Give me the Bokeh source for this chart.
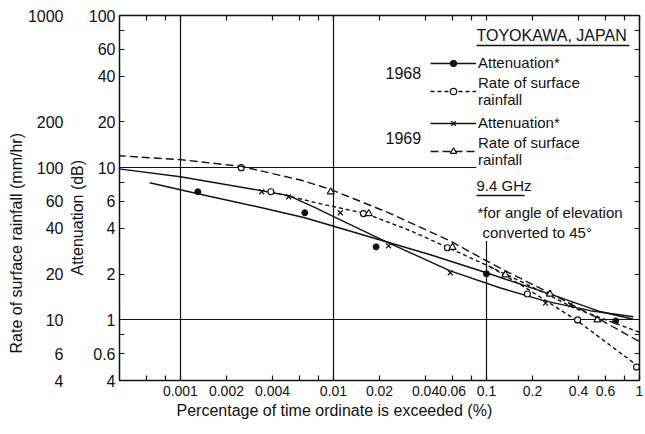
import math
from bokeh.plotting import figure
from bokeh.models import (LogAxis, LogScale, Range1d, FixedTicker, Label, Legend,
                          LegendItem, BoxAnnotation, Title)
from bokeh.embed import file_html
from bokeh.resources import INLINE

# ---------------- data ----------------
# 1968 attenuation (dB): fitted curve and measured points
att68_x = [0.00063, 0.0013, 0.0034, 0.0065, 0.019, 0.043, 0.1, 0.27, 0.56, 0.91]
att68_y = [7.96, 6.74, 5.46, 4.69, 3.41, 2.68, 2.04, 1.46, 1.13, 1.01]
att68_px = [0.0013, 0.0065, 0.019, 0.1, 0.7]
att68_py = [6.95, 5.06, 3.02, 2.01, 0.985]

# 1969 attenuation (dB)
att69_x = [0.00039, 0.001, 0.0034, 0.0051, 0.0076, 0.0111, 0.0229, 0.058, 0.1235, 0.243, 0.479, 0.914]
att69_y = [9.85, 8.73, 7.06, 6.55, 5.46, 4.55, 3.21, 2.10, 1.62, 1.33, 1.15, 1.05]
att69_px = [0.0034, 0.0051, 0.0111, 0.0229, 0.058, 0.243, 0.354]
att69_py = [6.95, 6.44, 5.06, 3.07, 2.04, 1.29, 1.26]

# 1968 rate of surface rainfall (mm/hr)
rain68_x = [0.0039, 0.0082, 0.0162, 0.0318, 0.0556, 0.106, 0.262, 0.371, 1.0]
rain68_y = [69.5, 58, 50, 38.6, 30, 22.3, 14.4, 12.0, 8.3]
rain68b_x = [0.106, 0.185, 0.394, 0.97]
rain68b_y = [22.3, 16, 9.85, 5.0]
rain68_px = [0.0025, 0.0039, 0.0157, 0.0556, 0.185, 0.394, 0.956]
rain68_py = [100, 69.5, 50, 29.8, 14.8, 10, 4.9]

# 1969 rate of surface rainfall (mm/hr)
rain69_x = [0.00039, 0.001, 0.0025, 0.0061, 0.0096, 0.0236, 0.058, 0.096, 0.133, 0.26, 0.53, 1.0]
rain69_y = [120, 113, 102, 83, 72, 50, 33, 25, 21, 15, 10.3, 7.2]
rain69_px = [0.0096, 0.017, 0.060, 0.133, 0.26, 0.53]
rain69_py = [69.5, 50, 30, 19.8, 14.8, 10.0]

# axes
x_ticks = [0.0006, 0.0008, 0.001, 0.002, 0.004, 0.006, 0.008, 0.01, 0.02, 0.04,
           0.06, 0.08, 0.1, 0.2, 0.4, 0.6, 0.8, 1]
x_labels = ["", "", "0.001", "0.002", "0.004", "", "", "0.01", "0.02", "0.04",
            "0.06", "", "0.1", "0.2", "0.4", "0.6", "", "1"]
att_ticks = [0.4, 0.6, 0.8, 1, 2, 4, 6, 8, 10, 20, 40, 60, 80, 100]
att_labels = ["4", "0.6", "", "1", "2", "4", "6", "", "10", "20", "40", "60", "", "100"]
rain_ticks = [4, 6, 10, 20, 40, 60, 100, 200, 1000]
rain_labels = ["4", "6", "10", "20", "40", "60", "100", "200", "1000"]

FONT = "Liberation Sans"
BLACK = "#111111"

# ---------------- figure ----------------
W, H = 645, 434
p = figure(width=W, height=H, x_axis_type="log", y_axis_type="log",
           x_range=Range1d(0.0004, 1), y_range=Range1d(0.4, 100),
           output_backend="svg", toolbar_location=None,
           min_border_left=119, min_border_right=6, min_border_top=15, min_border_bottom=54)
p.extra_y_ranges = {"rain": Range1d(4, 1000)}
p.extra_y_scales = {"rain": LogScale()}
p.outline_line_color = BLACK
p.background_fill_color = "white"
p.border_fill_color = "white"

# grid
p.xgrid.ticker = FixedTicker(ticks=[0.001, 0.01, 0.1])
p.ygrid.ticker = FixedTicker(ticks=[1, 10])
for g in (p.xgrid, p.ygrid):
    g.grid_line_color = BLACK
    g.grid_line_width = 1.2
    g.grid_line_alpha = 1

def style_axis(ax, ticks, labels, size):
    ax.ticker = FixedTicker(ticks=ticks)
    ax.major_label_overrides = {t: l for t, l in zip(ticks, labels)}
    ax.major_tick_in = 5
    ax.major_tick_out = 0
    ax.minor_tick_line_color = None
    ax.axis_line_color = BLACK
    ax.axis_line_width = 1.5
    ax.major_tick_line_color = BLACK
    ax.major_tick_line_width = 1.2
    ax.major_label_text_font = FONT
    ax.major_label_text_font_size = size
    ax.major_label_text_color = BLACK

def side_title(text, side, offset, standoff=0):
    # align="left": offset is measured from the frame's start edge
    t = Title(text=text, align="left", offset=offset, standoff=standoff,
              text_font=FONT, text_font_size="16px", text_font_style="normal",
              text_color=BLACK)
    p.add_layout(t, side)

xa = p.xaxis[0]
style_axis(xa, x_ticks, x_labels, "14px")
xa.major_label_standoff = 5

ya = p.yaxis[0]
style_axis(ya, att_ticks, att_labels, "16px")
ya.major_label_standoff = 4

side_title("Attenuation (dB)", "left", 105)

rain_axis = LogAxis(y_range_name="rain")
style_axis(rain_axis, rain_ticks, rain_labels, "16px")
rain_axis.major_tick_in = 0
rain_axis.major_tick_line_color = None
rain_axis.axis_line_color = None
rain_axis.major_label_standoff = 3
p.add_layout(rain_axis, "left")

side_title("Rate of surface rainfall (mm/hr)", "left", 27)
side_title("Percentage of time ordinate is exceeded (%)", "below", 57, standoff=2)

top_axis = LogAxis()
style_axis(top_axis, x_ticks, [""] * len(x_ticks), "0px")
top_axis.major_label_standoff = 0
p.add_layout(top_axis, "above")

right_axis = LogAxis()
style_axis(right_axis, att_ticks, [""] * len(att_ticks), "0px")
right_axis.major_label_standoff = 0
p.add_layout(right_axis, "right")

# ---------------- series ----------------
l_att68 = p.line(att68_x, att68_y, line_color=BLACK, line_width=1.5)
s_att68 = p.scatter(att68_px, att68_py, marker="circle", size=6, fill_color=BLACK, line_color=BLACK)

l_att69 = p.line(att69_x, att69_y, line_color=BLACK, line_width=1.4)
s_att69 = p.scatter(att69_px, att69_py, marker="x", size=7, line_color=BLACK, line_width=1.2)

l_rain68 = p.line(rain68_x, rain68_y, y_range_name="rain", line_color=BLACK, line_width=1.4, line_dash="4 3")
p.line(rain68b_x, rain68b_y, y_range_name="rain", line_color=BLACK, line_width=1.4, line_dash="4 3")
s_rain68 = p.scatter(rain68_px, rain68_py, y_range_name="rain", marker="circle", size=6,
                     fill_color="white", line_color=BLACK, line_width=1.2)

l_rain69 = p.line(rain69_x, rain69_y, y_range_name="rain", line_color=BLACK, line_width=1.4, line_dash="8 4")
s_rain69 = p.scatter(rain69_px, rain69_py, y_range_name="rain", marker="triangle", size=7,
                     fill_color="white", line_color=BLACK, line_width=1.2)

# ---------------- key area ----------------
# white panel behind the key (hides grid lines there)
p.add_layout(BoxAnnotation(left=0.086, bottom=3.3, fill_color="white", fill_alpha=1,
                           line_color=None, level="underlay"))

# frame-relative screen positions (x from frame left, y from frame bottom)
FL, FB = 119, 380
def sx(px):
    return px - FL
def sy(py):
    return FB - py

def lab(text, px, py, size="15px", align="left"):
    p.add_layout(Label(x=sx(px), y=sy(py), x_units="screen", y_units="screen", text=text,
                       text_font=FONT, text_font_size=size, text_color=BLACK,
                       text_align=align, text_baseline="middle"))

def underline(px0, px1, py):
    p.add_layout(BoxAnnotation(left=sx(px0), right=sx(px1), bottom=sy(py) - 0.8, top=sy(py) + 0.8,
                               left_units="screen", right_units="screen",
                               bottom_units="screen", top_units="screen",
                               fill_color=BLACK, fill_alpha=1, line_color=None))

lab("TOYOKAWA, JAPAN", 476, 35, size="16px")
underline(476, 629, 45)
lab("1968", 385, 72, size="16px")
lab("1969", 385, 137, size="16px")
lab("9.4 GHz", 476, 185, size="15px")
underline(476, 524, 195)
lab("*for angle of elevation", 477, 212, size="15px")
lab("converted to 45°", 482, 232, size="15px")

def make_legend(items, bottom_py):
    lg = Legend(items=items, location=(sx(430), sy(bottom_py)), orientation="vertical",
                background_fill_alpha=0, border_line_color=None, padding=0, margin=0,
                spacing=3, glyph_width=46, glyph_height=16, label_standoff=2,
                label_text_font=FONT, label_text_font_size="15px", label_text_color=BLACK,
                label_text_line_height=1.05, label_height=16)
    p.add_layout(lg)

make_legend([LegendItem(label="Attenuation*", renderers=[l_att68, s_att68]),
             LegendItem(label="Rate of surface\nrainfall", renderers=[l_rain68, s_rain68])], 108)
make_legend([LegendItem(label="Attenuation*", renderers=[l_att69, s_att69]),
             LegendItem(label="Rate of surface\nrainfall", renderers=[l_rain69, s_rain69])], 168)

open("out.html", "w").write(file_html(p, INLINE))
